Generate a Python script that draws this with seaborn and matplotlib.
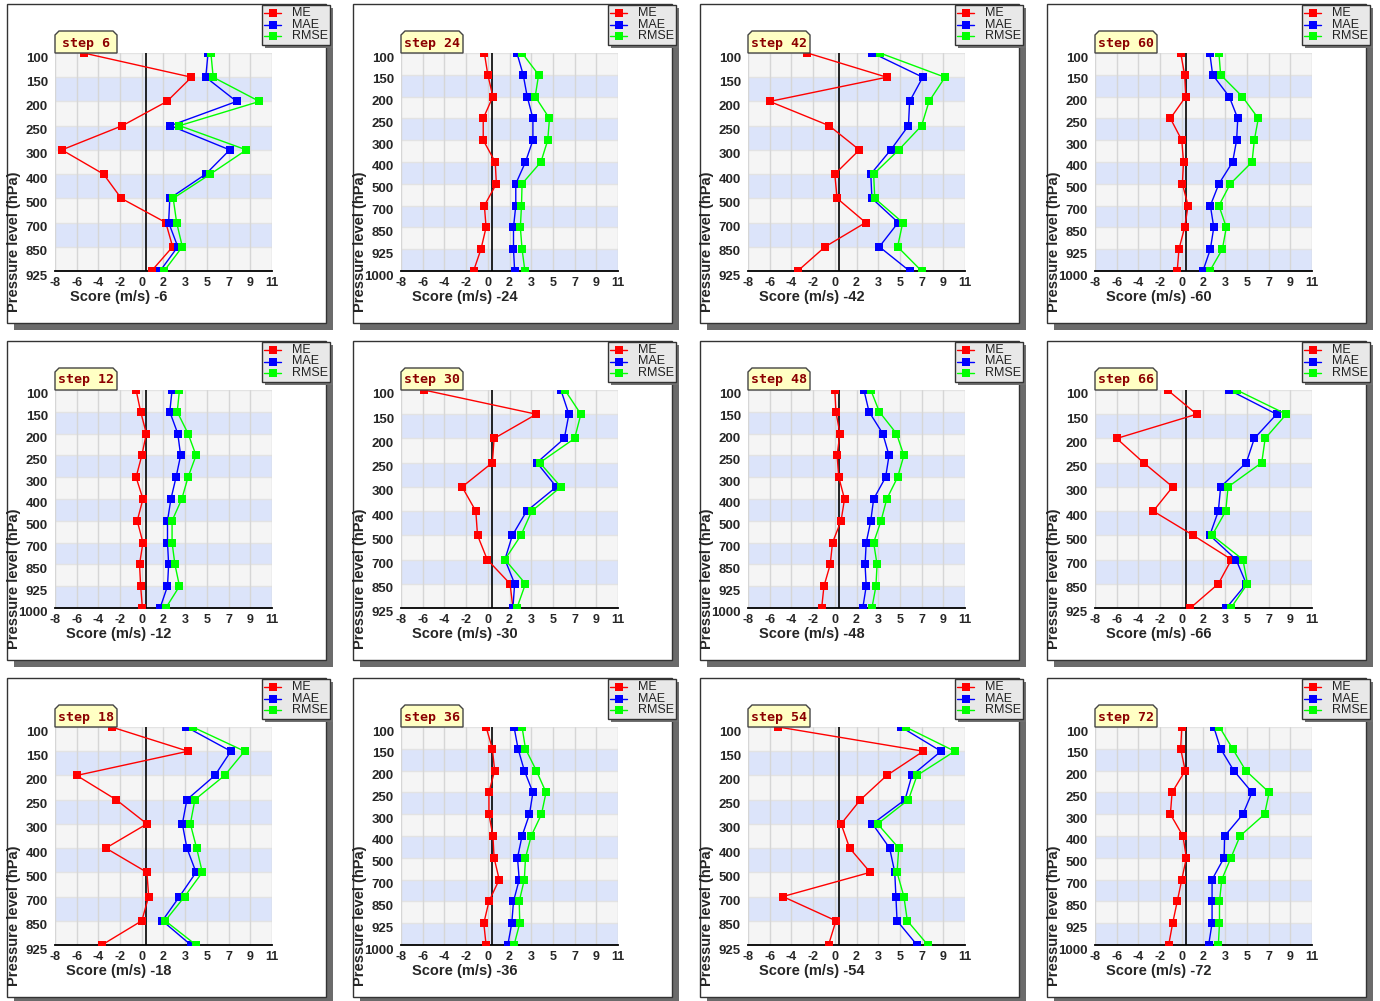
import seaborn as sns
import matplotlib.pyplot as plt
import matplotlib.patches as mpatches
import matplotlib.transforms as mtransforms
import pandas as pd
import numpy as np

sns.set_style("white")
plt.rcParams['font.family'] = ['Liberation Sans', 'DejaVu Sans']

W, H = 1380, 1001

levels_short = [100, 150, 200, 250, 300, 400, 500, 700, 850, 925]
levels_long = [100, 150, 200, 250, 300, 400, 500, 700, 850, 925, 1000]

# odd tick labels: 11 even ticks from -8 to 11, labels rounded
x_ticks = np.linspace(-8, 11, 11)
x_tick_labels = ["-8", "-6", "-4", "-2", "0", "2", "3", "5", "7", "9", "11"]

metrics = ["ME", "MAE", "RMSE"]
colors = ["#ff0000", "#0000ff", "#00ff00"]

# step 6
me_06 = [-5.5, 3.95, 1.8, -2.1, -7.4, -3.75, -2.2, 1.7, 2.3, 0.45]
mae_06 = [5.4, 5.2, 7.9, 2.1, 7.3, 5.2, 2.05, 1.95, 2.75, 1.2]
rmse_06 = [5.65, 5.85, 9.9, 2.9, 8.75, 5.6, 2.35, 2.65, 3.15, 1.55]
# step 12
me_12 = [-0.9, -0.5, 0.0, -0.4, -0.9, -0.3, -0.8, -0.3, -0.6, -0.5, -0.35]
mae_12 = [2.25, 2.05, 2.75, 3.0, 2.6, 2.15, 1.85, 1.85, 1.95, 1.85, 1.2]
rmse_12 = [2.9, 2.7, 3.65, 4.35, 3.65, 3.1, 2.25, 2.25, 2.5, 2.9, 1.7]
# step 18
me_18 = [-3.05, 3.65, -6.1, -2.65, 0.05, -3.55, 0.05, 0.2, -0.4, -3.9]
mae_18 = [3.5, 7.4, 6.0, 3.55, 3.15, 3.55, 4.35, 2.9, 1.4, 3.9]
rmse_18 = [4.05, 8.6, 6.85, 4.25, 3.85, 4.4, 4.9, 3.35, 1.65, 4.35]
# step 24
me_24 = [-0.7, -0.4, 0.05, -0.8, -0.8, 0.25, 0.35, -0.7, -0.55, -1.0, -1.65]
mae_24 = [2.15, 2.7, 3.05, 3.55, 3.55, 2.9, 2.05, 2.05, 1.85, 1.85, 1.95]
rmse_24 = [2.6, 4.05, 3.75, 5.0, 4.85, 4.25, 2.6, 2.55, 2.45, 2.6, 2.85]
# step 30
me_30 = [-6.0, 3.85, 0.15, 0.0, -2.65, -1.45, -1.3, -0.45, 1.55, 1.8]
mae_30 = [6.0, 6.7, 6.3, 3.9, 5.6, 3.0, 1.75, 1.1, 1.95, 1.8]
rmse_30 = [6.35, 7.75, 7.2, 4.15, 6.0, 3.45, 2.5, 1.1, 2.9, 2.15]
# step 36
me_36 = [-0.55, 0.0, 0.2, -0.3, -0.3, 0.05, 0.15, 0.6, -0.3, -0.75, -0.55]
mae_36 = [1.9, 2.25, 2.8, 3.55, 3.25, 2.6, 2.2, 2.35, 1.85, 1.7, 1.35]
rmse_36 = [2.6, 2.9, 3.85, 4.7, 4.3, 3.4, 2.9, 2.8, 2.35, 2.4, 1.9]
# step 42
me_42 = [-2.8, 4.15, -6.1, -0.9, 1.75, -0.4, -0.2, 2.3, -1.25, -3.65]
mae_42 = [2.9, 7.3, 6.15, 6.05, 4.5, 2.75, 2.85, 5.15, 3.5, 6.15]
rmse_42 = [3.55, 9.25, 7.85, 7.2, 5.2, 3.0, 3.1, 5.55, 5.1, 7.2]
# step 48
me_48 = [-0.4, -0.3, 0.05, -0.2, -0.05, 0.45, 0.15, -0.6, -0.8, -1.35, -1.55]
mae_48 = [2.15, 2.6, 3.8, 4.35, 4.05, 3.0, 2.75, 2.35, 2.25, 2.35, 2.05]
rmse_48 = [2.75, 3.5, 5.0, 5.65, 5.1, 4.15, 3.65, 3.0, 3.3, 3.2, 2.85]
# step 54
me_54 = [-5.35, 7.35, 4.15, 1.85, 0.15, 0.9, 2.7, -4.95, -0.3, -0.95]
mae_54 = [5.4, 8.9, 6.35, 5.75, 2.9, 4.4, 4.85, 4.95, 5.05, 6.8]
rmse_54 = [5.8, 10.1, 6.8, 6.05, 3.35, 5.2, 5.05, 5.65, 5.95, 7.75]
# step 60
me_60 = [-0.5, -0.15, -0.05, -1.4, -0.4, -0.25, -0.35, 0.15, -0.15, -0.65, -0.8]
mae_60 = [2.05, 2.3, 3.75, 4.5, 4.4, 4.05, 2.85, 2.1, 2.4, 2.1, 1.45]
rmse_60 = [2.85, 3.0, 4.9, 6.3, 5.95, 5.75, 3.85, 2.85, 3.5, 3.15, 2.05]
# step 66
me_66 = [-1.65, 0.9, -6.1, -3.75, -1.2, -2.9, 0.6, 3.95, 2.8, 0.35]
mae_66 = [3.75, 7.9, 5.95, 5.25, 3.0, 2.8, 2.05, 4.35, 5.25, 3.5]
rmse_66 = [4.4, 8.75, 6.9, 6.6, 3.65, 3.45, 2.25, 4.95, 5.35, 3.9]
# step 72
me_72 = [-0.4, -0.5, -0.1, -1.25, -1.4, -0.3, 0.0, -0.4, -0.8, -1.2, -1.55]
mae_72 = [2.4, 3.0, 4.15, 5.75, 4.95, 3.35, 3.3, 2.25, 2.25, 2.25, 1.95]
rmse_72 = [2.9, 4.05, 5.2, 7.25, 6.85, 4.7, 3.9, 3.1, 2.9, 2.9, 2.8]

panels = {
    6: (levels_short, me_06, mae_06, rmse_06),
    12: (levels_long, me_12, mae_12, rmse_12),
    18: (levels_short, me_18, mae_18, rmse_18),
    24: (levels_long, me_24, mae_24, rmse_24),
    30: (levels_short, me_30, mae_30, rmse_30),
    36: (levels_long, me_36, mae_36, rmse_36),
    42: (levels_short, me_42, mae_42, rmse_42),
    48: (levels_long, me_48, mae_48, rmse_48),
    54: (levels_short, me_54, mae_54, rmse_54),
    60: (levels_long, me_60, mae_60, rmse_60),
    66: (levels_short, me_66, mae_66, rmse_66),
    72: (levels_long, me_72, mae_72, rmse_72),
}
grid = [[6, 24, 42, 60], [12, 30, 48, 66], [18, 36, 54, 72]]
col_x = [7, 353, 700, 1047]
row_y = [4, 341, 678]

fig = plt.figure(figsize=(W / 100, H / 100), dpi=100)
fig.patch.set_facecolor("white")

bg = fig.add_axes([0, 0, 1, 1], zorder=0)
bg.set_xlim(0, W)
bg.set_ylim(H, 0)
bg.axis("off")
fg = fig.add_axes([0, 0, 1, 1], zorder=5)
fg.set_xlim(0, W)
fg.set_ylim(H, 0)
fg.axis("off")
fg.patch.set_visible(False)

down = mtransforms.ScaledTranslation(0, -0.04, fig.dpi_scale_trans)

for r, row in enumerate(grid):
    for c, step in enumerate(row):
        px, py = col_x[c], row_y[r]
        levels, me, mae, rmse = panels[step]
        n = len(levels)

        # panel box + shadow
        bg.add_patch(mpatches.Rectangle((px + 7, py + 7), 319, 319, color="#6b6b6b", lw=0))
        bg.add_patch(mpatches.Rectangle((px, py), 319, 319, facecolor="white", edgecolor="#333333", lw=1))

        ax = fig.add_axes([(px + 48) / W, 1 - (py + 49 + 218) / H, 217 / W, 218 / H], zorder=2)

        df = pd.DataFrame({
            "pos": list(range(n)) * 3,
            "value": me + mae + rmse,
            "metric": [m for m in metrics for _ in range(n)],
        })

        for i in range(n - 1):
            ax.axhspan(i, i + 1, color="#f5f5f5" if i % 2 == 0 else "#dce4fa", lw=0, zorder=0)
        for i in range(n):
            ax.axhline(i, color="#e3e3e3", lw=1, zorder=0.5)
        for t in x_ticks:
            ax.axvline(t, color="#d6d6d6", lw=1, zorder=0.6)
        ax.axvline(0, color="black", lw=1.2, zorder=1.5)

        sns.lineplot(data=df, x="value", y="pos", hue="metric", hue_order=metrics,
                     palette=colors, orient="y", estimator=None, sort=True,
                     marker="s", markersize=6, markeredgewidth=0, linewidth=1,
                     legend=False, ax=ax, zorder=3)

        ax.set_xlim(-8, 11)
        ax.set_ylim(n - 1, 0)
        ax.set_xticks(x_ticks, x_tick_labels, fontsize=9, fontweight="bold")
        ax.set_yticks(range(n), [str(l) for l in levels], fontsize=9.5, fontweight="bold")
        ax.set_xlabel("")
        ax.set_ylabel("")
        ax.tick_params(axis="x", direction="in", length=4, width=1, pad=4)
        ax.tick_params(axis="y", length=0, pad=5)
        for lbl in ax.get_yticklabels():
            lbl.set_transform(lbl.get_transform() + down)
        for s in ["top", "right", "left"]:
            ax.spines[s].set_visible(False)
        ax.spines["bottom"].set_color("black")
        ax.spines["bottom"].set_linewidth(1.3)

        # axis titles
        fg.text(px + 7, py + 238, "Pressure level (hPa)", rotation=90, ha="center", va="center",
                fontsize=10.5, fontweight="bold")
        fg.text(px + 112, py + 293, f"Score (m/s) -{step}", ha="center", va="center",
                fontsize=10.5, fontweight="bold")

        # step label
        lx0, lx1, ly0, ly1 = px + 48, px + 110, py + 27, py + 49
        fg.add_patch(mpatches.Polygon([(lx0, ly1), (lx0, ly0 + 4), (lx0 + 4, ly0), (lx1 - 4, ly0),
                                       (lx1, ly0 + 4), (lx1, ly1)], closed=True,
                                      facecolor="#ffffc4", edgecolor="#444444", lw=1))
        fg.text((lx0 + lx1) / 2, (ly0 + ly1) / 2 + 1, f"step {step}", ha="center", va="center",
                fontsize=9.5, fontweight="bold", family="DejaVu Sans Mono", color="#8b0000")

        # legend
        fg.add_patch(mpatches.Rectangle((px + 258, py + 4), 68, 40, color="#707070", lw=0))
        fg.add_patch(mpatches.Rectangle((px + 255, py + 1), 68, 40, facecolor="#e8e8e8",
                                        edgecolor="#333333", lw=1))
        for k, (m, col) in enumerate(zip(metrics, colors)):
            yy = py + 9 + k * 11.5
            fg.plot([px + 257, px + 274], [yy, yy], color=col, lw=1)
            fg.plot([px + 265.5], [yy], marker="s", markersize=6, color=col, markeredgewidth=0)
            fg.text(px + 285, yy, m, ha="left", va="center", fontsize=9, color="#222222")

fig.savefig("out.png", dpi=100)
